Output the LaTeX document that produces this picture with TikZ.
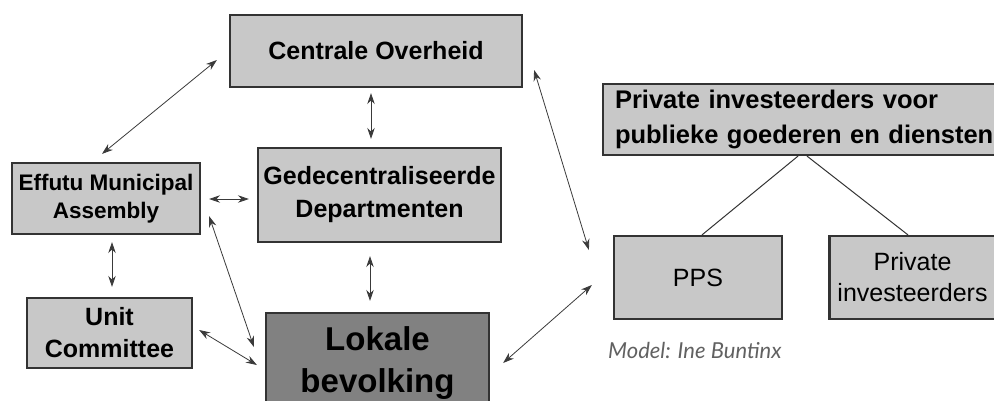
\documentclass[tikz,border=0pt]{standalone}
\usepackage{fontspec}
\setmainfont{Liberation Sans}
\newfontfamily\modelfont{Lato}
\usetikzlibrary{arrows.meta}
\definecolor{boxfill}{HTML}{C8C8C8}
\definecolor{darkfill}{HTML}{818181}
\definecolor{edge}{HTML}{333333}
\definecolor{arrcol}{HTML}{3A3A3A}
\begin{document}
\begin{tikzpicture}[x=1pt,y=-1pt,
  box/.style={draw=edge, line width=2.2pt, fill=boxfill, inner sep=0pt, align=center},
  bfont/.style={font=\fontsize{25}{32}\selectfont\bfseries},
  rfont/.style={font=\fontsize{25}{31}\selectfont},
  arr/.style={draw=arrcol, line width=0.8pt, {Stealth[length=11pt,width=7.5pt]}-{Stealth[length=11pt,width=7.5pt]}},
  conn/.style={draw=edge, line width=1pt}]
\useasboundingbox (0,0) rectangle (994,400);
\node[box, bfont, minimum width=292pt, minimum height=72pt] (cen) at (376,51) {Centrale Overheid};
\node[box, font=\fontsize{25}{33}\selectfont\bfseries, minimum width=243pt, minimum height=94pt] (ged) at (379.5,195) {Gedecentraliseerde\\Departmenten};
\node[box, font=\fontsize{22.5}{28}\selectfont\bfseries, minimum width=188pt, minimum height=71pt] (eff) at (106,198.5) {Effutu Municipal\\Assembly};
\node[box, bfont, minimum width=165pt, minimum height=70pt] (unit) at (109.5,333) {Unit\\Committee};
\node[box, fill=darkfill, font=\fontsize{33}{42}\selectfont\bfseries, minimum width=223pt, minimum height=100pt] (lok) at (377.5,363) {Lokale\\bevolking};
\node[box, font=\fontsize{25.5}{35}\selectfont\bfseries, align=left, text width=380pt, inner xsep=12pt, minimum height=71pt] (pv) at (805,119.5) {Private investeerders voor\\publieke goederen en diensten};
\node[box, rfont, minimum width=168pt, minimum height=83pt] (pps) at (698,277.5) {PPS};
\node[box, rfont, minimum width=166pt, minimum height=83pt] (pi) at (912.5,277.5) {Private\\investeerders};
\node[font=\fontsize{22}{26}\modelfont\itshape, text=black!62, anchor=west, inner sep=0pt] (model) at (608,350) {Model: Ine Buntinx};
% arrows
\draw[arr] ([shift={(-12,9)}]cen.west) -- ([shift={(-4,-8)}]eff.north);
\draw[arr] ([shift={(-5,5)}]cen.south) -- ([shift={(-8.5,-8)}]ged.north);
\draw[arr] ([shift={(8,0.5)}]eff.east) -- ([shift={(-8,4)}]ged.west);
\draw[arr] ([shift={(6,7)}]eff.south) -- ([shift={(2.5,-10)}]unit.north);
\draw[arr] ([shift={(8,-19)}]eff.south east) -- ([shift={(-11,-16)}]lok.west);
\draw[arr] ([shift={(6,-3)}]unit.east) -- ([shift={(-8,2)}]lok.west);
\draw[arr] ([shift={(-9.5,13)}]ged.south) -- ([shift={(-7.5,-11)}]lok.north);
\draw[arr] ([shift={(11,19)}]cen.east) -- ([shift={(-24,-27.5)}]pps.west);
\draw[arr] ([shift={(-21,7.5)}]pps.west) -- ([shift={(13,0)}]lok.east);
% tree lines
\draw[conn] ([xshift=-7pt]pv.south) -- ([xshift=4pt]pps.north);
\draw[conn] ([xshift=2pt]pv.south) -- ([xshift=-4.5pt]pi.north);
\end{tikzpicture}
\end{document}
